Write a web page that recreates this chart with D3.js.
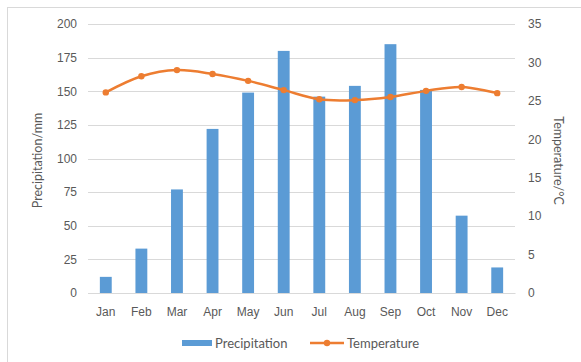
<!DOCTYPE html>
<html>
<head>
<meta charset="utf-8">
<script src="https://cdn.jsdelivr.net/npm/d3@7"></script>
<style>
  html, body { margin: 0; padding: 0; background: #fff; }
  svg { display: block; font-family: Lato, "Open Sans", "Liberation Sans", sans-serif; }
</style>
</head>
<body>
<svg id="chart" width="581" height="362"></svg>
<script>
// Monthly climate data
const months = ["Jan", "Feb", "Mar", "Apr", "May", "Jun", "Jul", "Aug", "Sep", "Oct", "Nov", "Dec"];
const precipitation = [12, 33, 77, 122, 149, 180, 146, 154, 185, 151, 57.5, 19];
const temperature = [26.1, 28.2, 29.0, 28.5, 27.6, 26.4, 25.2, 25.1, 25.5, 26.3, 26.8, 26.0];
const precipTicks = [0, 25, 50, 75, 100, 125, 150, 175, 200];
const tempTicks = [0, 5, 10, 15, 20, 25, 30, 35];

const svg = d3.select("#chart");
const W = 581, H = 362;
const plot = { left: 88, right: 515, top: 24, bottom: 293 };

const blue = "#5B9BD5", orange = "#ED7D31", grid = "#D9D9D9", text = "#595959";

// Chart area frame
svg.append("rect")
  .attr("x", 7.5).attr("y", 7.5)
  .attr("width", W + 10).attr("height", H + 10)
  .attr("fill", "#fff").attr("stroke", grid).attr("stroke-width", 1);

const x = d3.scaleBand().domain(months).range([plot.left, plot.right]).paddingInner(0).paddingOuter(0);
const yL = d3.scaleLinear().domain([0, 200]).range([plot.bottom, plot.top]);
const yR = d3.scaleLinear().domain([0, 35]).range([plot.bottom, plot.top]);

// Horizontal gridlines
svg.append("g")
  .selectAll("line").data(precipTicks).join("line")
  .attr("x1", plot.left).attr("x2", plot.right)
  .attr("y1", d => Math.round(yL(d)) + 0.5).attr("y2", d => Math.round(yL(d)) + 0.5)
  .attr("stroke", grid).attr("stroke-width", 1);

// Left axis
const axisL = svg.append("g")
  .attr("transform", `translate(${plot.left},0)`)
  .call(d3.axisLeft(yL).tickValues(precipTicks).tickSize(0).tickPadding(11));
axisL.select(".domain").remove();
axisL.selectAll("text").attr("fill", text).style("font-size", "12px");

// Right axis
const axisR = svg.append("g")
  .attr("transform", `translate(${plot.right},0)`)
  .call(d3.axisRight(yR).tickValues(tempTicks).tickSize(0).tickPadding(13));
axisR.select(".domain").remove();
axisR.selectAll("text").attr("fill", text).style("font-size", "12px");

// Category axis
const axisB = svg.append("g")
  .attr("transform", `translate(0,${plot.bottom})`)
  .call(d3.axisBottom(x).tickSize(0).tickPadding(14));
axisB.select(".domain").attr("stroke", grid);
axisB.selectAll("text").attr("fill", text).style("font-size", "12px");

// Precipitation bars
const barW = x.bandwidth() / 3;
svg.append("g")
  .selectAll("rect").data(precipitation).join("rect")
  .attr("x", (d, i) => x(months[i]) + (x.bandwidth() - barW) / 2)
  .attr("y", d => yL(d))
  .attr("width", barW)
  .attr("height", d => yL(0) - yL(d))
  .attr("fill", blue);

// Temperature line (smoothed) with markers
const line = d3.line()
  .x((d, i) => x(months[i]) + x.bandwidth() / 2)
  .y(d => yR(d))
  .curve(d3.curveCatmullRom.alpha(0.5));
svg.append("path")
  .datum(temperature)
  .attr("d", line)
  .attr("fill", "none")
  .attr("stroke", orange)
  .attr("stroke-width", 2.5)
  .attr("stroke-linecap", "round");
svg.append("g")
  .selectAll("circle").data(temperature).join("circle")
  .attr("cx", (d, i) => x(months[i]) + x.bandwidth() / 2)
  .attr("cy", d => yR(d))
  .attr("r", 3.2)
  .attr("fill", orange);

// Axis titles
svg.append("text")
  .attr("transform", `translate(42,${(plot.top + plot.bottom) / 2 + 2}) rotate(-90)`)
  .attr("text-anchor", "middle")
  .attr("fill", text).style("font-size", "12.5px")
  .text("Precipitation/mm");
svg.append("text")
  .attr("transform", `translate(554,${(plot.top + plot.bottom) / 2 + 2}) rotate(90)`)
  .attr("text-anchor", "middle")
  .attr("fill", text).style("font-size", "12.5px")
  .text("Temperature/°C");

// Legend
const legY = 343;
const leg = svg.append("g");
leg.append("rect")
  .attr("x", 182).attr("y", legY - 3).attr("width", 30).attr("height", 6)
  .attr("fill", blue);
leg.append("text")
  .attr("x", 215).attr("y", legY).attr("dy", "0.35em")
  .attr("fill", text).style("font-size", "13px")
  .text("Precipitation");
leg.append("line")
  .attr("x1", 310).attr("x2", 344).attr("y1", legY).attr("y2", legY)
  .attr("stroke", orange).attr("stroke-width", 2.5);
leg.append("circle")
  .attr("cx", 327).attr("cy", legY).attr("r", 3.2).attr("fill", orange);
leg.append("text")
  .attr("x", 347).attr("y", legY).attr("dy", "0.35em")
  .attr("fill", text).style("font-size", "13px")
  .text("Temperature");
</script>
</body>
</html>
